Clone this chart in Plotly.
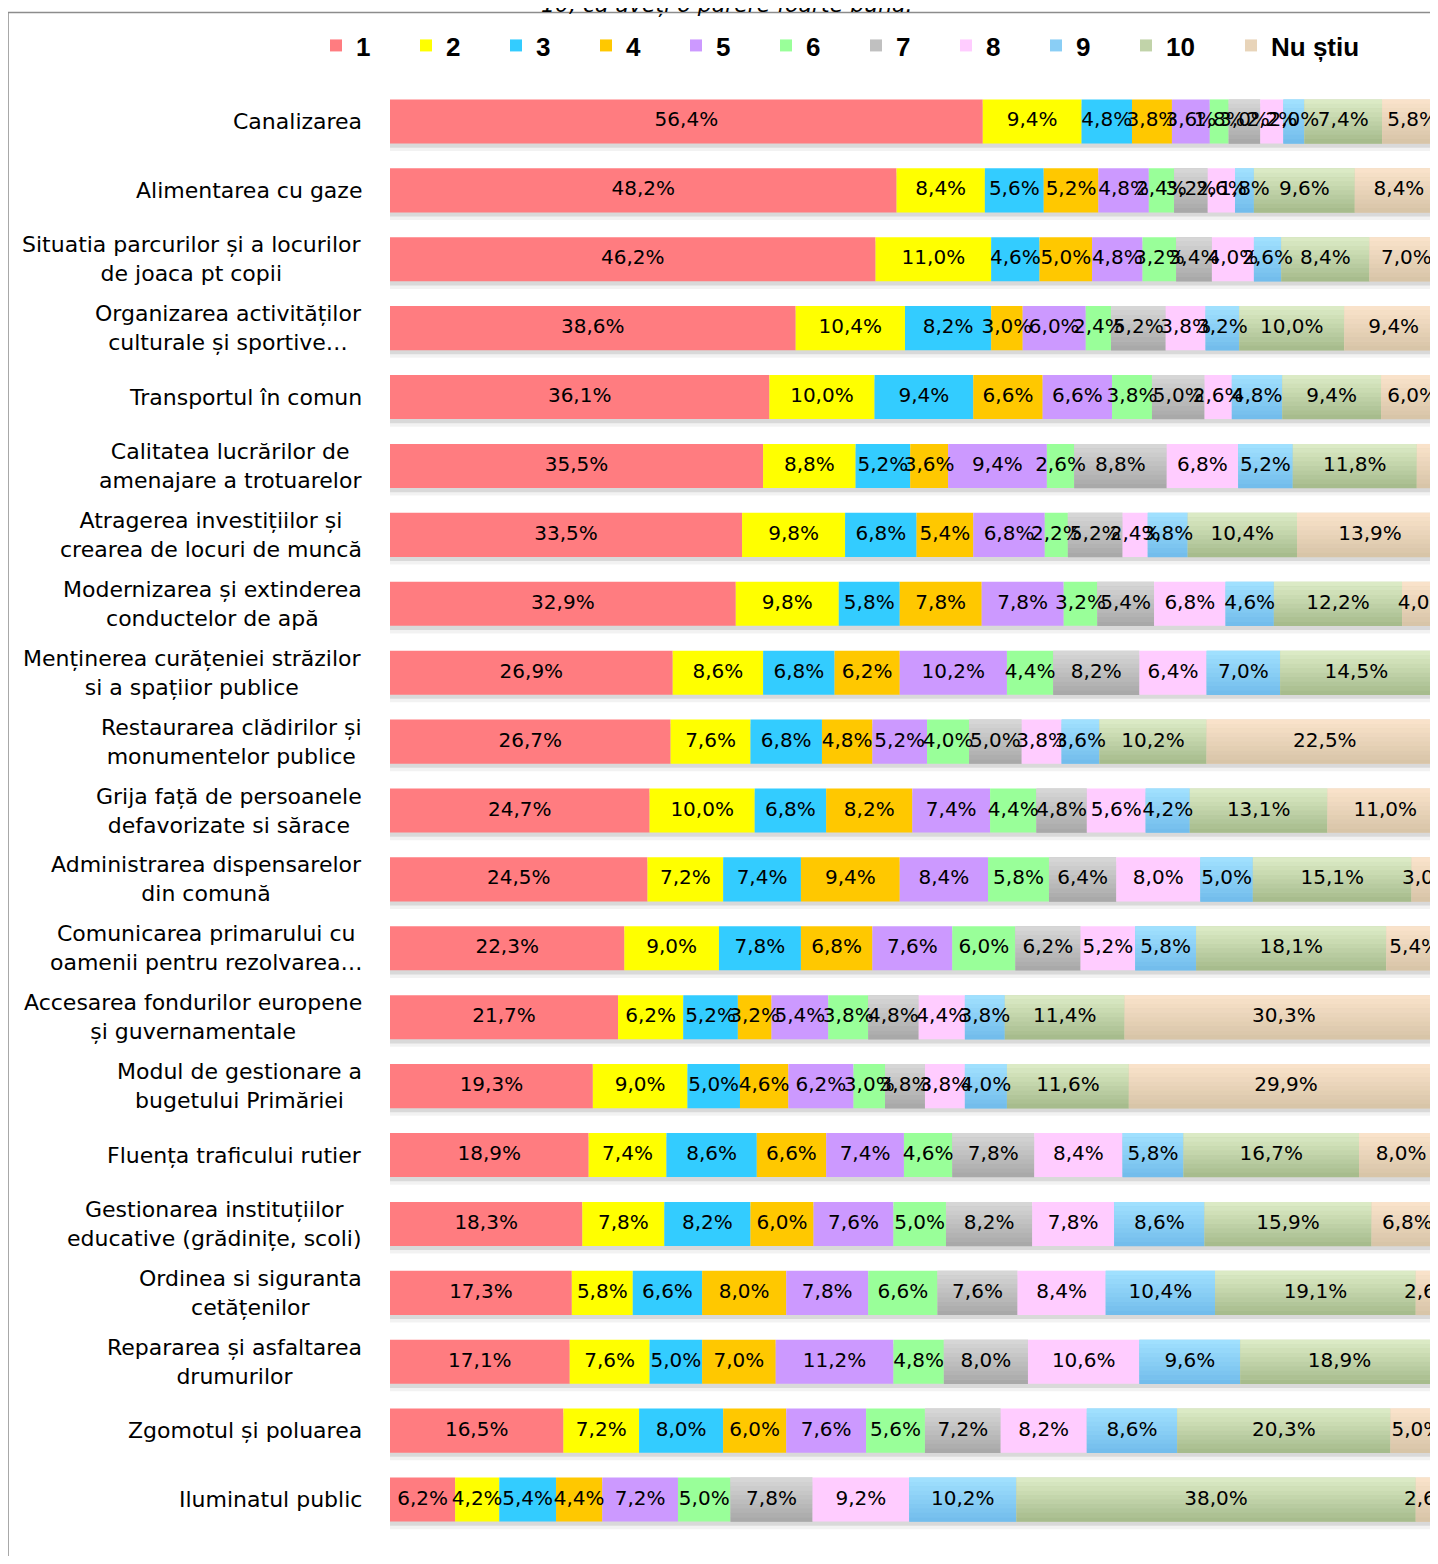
import numpy as np
import plotly.graph_objects as go

categories = [
    "Canalizarea",
    "Alimentarea cu gaze",
    "Situatia parcurilor și a locurilor<br>de joaca pt copii",
    "Organizarea activităților<br>culturale și sportive…",
    "Transportul în comun",
    "Calitatea lucrărilor de<br>amenajare a trotuarelor",
    "Atragerea investițiilor și<br>crearea de locuri de muncă",
    "Modernizarea și extinderea<br>conductelor de apă",
    "Menținerea curățeniei străzilor<br>si a spațiior publice",
    "Restaurarea clădirilor și<br>monumentelor publice",
    "Grija față de persoanele<br>defavorizate si sărace",
    "Administrarea dispensarelor<br>din comună",
    "Comunicarea primarului cu<br>oamenii pentru rezolvarea…",
    "Accesarea fondurilor europene<br>și guvernamentale",
    "Modul de gestionare a<br>bugetului Primăriei",
    "Fluența traficului rutier",
    "Gestionarea instituțiilor<br>educative (grădinițe, scoli)",
    "Ordinea si siguranta<br>cetățenilor",
    "Repararea și asfaltarea<br>drumurilor",
    "Zgomotul și poluarea",
    "Iluminatul public",
]

series_names = ["1", "2", "3", "4", "5", "6", "7", "8", "9", "10", "Nu știu"]

s1 = [56.4, 48.2, 46.2, 38.6, 36.1, 35.5, 33.5, 32.9, 26.9, 26.7, 24.7, 24.5, 22.3, 21.7, 19.3, 18.9, 18.3, 17.3, 17.1, 16.5, 6.2]
s2 = [9.4, 8.4, 11.0, 10.4, 10.0, 8.8, 9.8, 9.8, 8.6, 7.6, 10.0, 7.2, 9.0, 6.2, 9.0, 7.4, 7.8, 5.8, 7.6, 7.2, 4.2]
s3 = [4.8, 5.6, 4.6, 8.2, 9.4, 5.2, 6.8, 5.8, 6.8, 6.8, 6.8, 7.4, 7.8, 5.2, 5.0, 8.6, 8.2, 6.6, 5.0, 8.0, 5.4]
s4 = [3.8, 5.2, 5.0, 3.0, 6.6, 3.6, 5.4, 7.8, 6.2, 4.8, 8.2, 9.4, 6.8, 3.2, 4.6, 6.6, 6.0, 8.0, 7.0, 6.0, 4.4]
s5 = [3.6, 4.8, 4.8, 6.0, 6.6, 9.4, 6.8, 7.8, 10.2, 5.2, 7.4, 8.4, 7.6, 5.4, 6.2, 7.4, 7.6, 7.8, 11.2, 7.6, 7.2]
s6 = [1.8, 2.4, 3.2, 2.4, 3.8, 2.6, 2.2, 3.2, 4.4, 4.0, 4.4, 5.8, 6.0, 3.8, 3.0, 4.6, 5.0, 6.6, 4.8, 5.6, 5.0]
s7 = [3.0, 3.2, 3.4, 5.2, 5.0, 8.8, 5.2, 5.4, 8.2, 5.0, 4.8, 6.4, 6.2, 4.8, 3.8, 7.8, 8.2, 7.6, 8.0, 7.2, 7.8]
s8 = [2.2, 2.6, 4.0, 3.8, 2.6, 6.8, 2.4, 6.8, 6.4, 3.8, 5.6, 8.0, 5.2, 4.4, 3.8, 8.4, 7.8, 8.4, 10.6, 8.2, 9.2]
s9 = [2.0, 1.8, 2.6, 3.2, 4.8, 5.2, 3.8, 4.6, 7.0, 3.6, 4.2, 5.0, 5.8, 3.8, 4.0, 5.8, 8.6, 10.4, 9.6, 8.6, 10.2]
s10 = [7.4, 9.6, 8.4, 10.0, 9.4, 11.8, 10.4, 12.2, 14.5, 10.2, 13.1, 15.1, 18.1, 11.4, 11.6, 16.7, 15.9, 19.1, 18.9, 20.3, 38.0]
s11 = [5.8, 8.4, 7.0, 9.4, 6.0, 2.6, 13.9, 4.0, 1.0, 22.5, 11.0, 3.0, 5.4, 30.3, 29.9, 8.0, 6.8, 2.6, 0.4, 5.0, 2.6]

series_values = [s1, s2, s3, s4, s5, s6, s7, s8, s9, s10, s11]

# (top colour, bottom colour) for every series; equal pairs = flat fill
colors = [
    ("#FF7C80", "#FF7C80"), ("#FFFF00", "#FFFF00"), ("#33CCFF", "#33CCFF"),
    ("#FFC800", "#FFC800"), ("#CC99FF", "#CC99FF"), ("#99FF99", "#99FF99"),
    ("#D9D9D9", "#A6A6A6"), ("#FFCCFF", "#FFCCFF"), ("#A3E2FF", "#70BBEB"),
    ("#DEEDC8", "#A4B98A"), ("#FBE4CC", "#D6C3A6"),
]

title_text = "10, că aveți o părere foarte bună."

# the page adds an 8 px body margin; page pixel = figure pixel + 8
PAGE_OFF = 8
FIG_W, FIG_H = 1422, 1548
M_L, M_R, M_T, M_B = 382, 0, 78.5, 21.5
plot_w = FIG_W - M_L - M_R
plot_h = FIG_H - M_T - M_B
PX_PER_UNIT = 10.51


def px_to_paper_x(page_px):
    return (page_px - PAGE_OFF - M_L) / plot_w


def px_to_paper_y(page_py):
    return (FIG_H - M_B - (page_py - PAGE_OFF)) / plot_h


def hex_to_rgb(h):
    h = h.lstrip("#")
    return [int(h[i:i + 2], 16) for i in (0, 2, 4)]


def mix(c0, c1, t):
    a, b = hex_to_rgb(c0), hex_to_rgb(c1)
    return "rgb(%d,%d,%d)" % tuple(round(a[i] + (b[i] - a[i]) * t) for i in range(3))


vals = np.array(series_values, dtype=float)
cum = np.cumsum(vals, axis=0)
bases = cum - vals
totals = cum[-1]

BAR_W = 0.64
N_SLICES = 10
fig = go.Figure()

# soft drop shadow under each full bar
for shift, alpha in [(0.06, 0.10), (0.11, 0.05)]:
    fig.add_trace(go.Bar(
        x=totals, y=categories, base=np.zeros_like(totals), orientation="h",
        width=BAR_W, offset=-BAR_W / 2 + shift,
        marker=dict(color=f"rgba(0,0,0,{alpha})", line=dict(width=0)),
        hoverinfo="skip", showlegend=False,
    ))

for name, v, b, (ctop, cbot) in zip(series_names, vals, bases, colors):
    fig.add_trace(go.Bar(
        x=v, y=categories, base=b, orientation="h", name=name,
        width=BAR_W,
        marker=dict(color=mix(ctop, cbot, 0.5), line=dict(width=0)),
        legendwidth={"10": 60, "Nu știu": 110}.get(name, 45),
    ))
    if ctop != cbot:
        sw = BAR_W / N_SLICES
        for k in range(N_SLICES):
            fig.add_trace(go.Bar(
                x=v, y=categories, base=b, orientation="h",
                width=sw * 1.05, offset=-BAR_W / 2 + k * sw,
                marker=dict(color=mix(ctop, cbot, (k + 0.5) / N_SLICES),
                            line=dict(width=0)),
                hoverinfo="skip", showlegend=False,
            ))

for name, v, b in zip(series_names, vals, bases):
    labels = [f"{x:.1f}".replace(".", ",") + "%" for x in v]
    fig.add_trace(go.Scatter(
        x=b + v / 2, y=categories, mode="text", text=labels,
        textposition="middle center",
        textfont=dict(family="DejaVu Sans", size=20, color="#000000"),
        hoverinfo="skip", showlegend=False, cliponaxis=False,
    ))

annotations = []
for i, c in enumerate(categories):
    annotations.append(dict(
        x=0, xref="paper", xanchor="right", xshift=-26,
        y=i, yref="y", yanchor="middle",
        text=c, align="center", showarrow=False,
        font=dict(family="DejaVu Sans", size=22, color="#000000"),
    ))

# partially visible title above the chart frame
annotations.append(dict(
    x=px_to_paper_x(727), xref="paper", xanchor="center",
    y=px_to_paper_y(3.5), yref="paper", yanchor="middle",
    text=f"<i>{title_text}</i>", showarrow=False,
    font=dict(family="DejaVu Sans", size=22, color="#000000"),
))

fig.update_layout(
    width=FIG_W, height=FIG_H,
    margin=dict(l=M_L, r=M_R, t=M_T, b=M_B, autoexpand=False),
    barmode="overlay",
    paper_bgcolor="white", plot_bgcolor="white",
    showlegend=True,
    legend=dict(
        orientation="h", x=px_to_paper_x(316), xanchor="left",
        y=px_to_paper_y(45), yanchor="middle",
        font=dict(family="Liberation Sans Narrow, Liberation Sans", size=26,
                  color="#000000", weight="bold"),
        traceorder="normal", bgcolor="rgba(0,0,0,0)",
        itemclick=False, itemdoubleclick=False,
    ),
    xaxis=dict(range=[0, plot_w / PX_PER_UNIT], visible=False, fixedrange=True),
    yaxis=dict(type="category", range=[len(categories) - 0.5, -0.5],
               showticklabels=False, showgrid=False, zeroline=False,
               showline=False, ticks="", fixedrange=True),
    annotations=annotations,
    shapes=[dict(
        type="rect", xref="paper", yref="paper",
        x0=px_to_paper_x(8), x1=px_to_paper_x(1460),
        y0=px_to_paper_y(1600), y1=px_to_paper_y(12),
        line=dict(color="#8C8C8C", width=1.5), fillcolor="rgba(0,0,0,0)",
        layer="below",
    )],
)

fig.write_html("out.html")
